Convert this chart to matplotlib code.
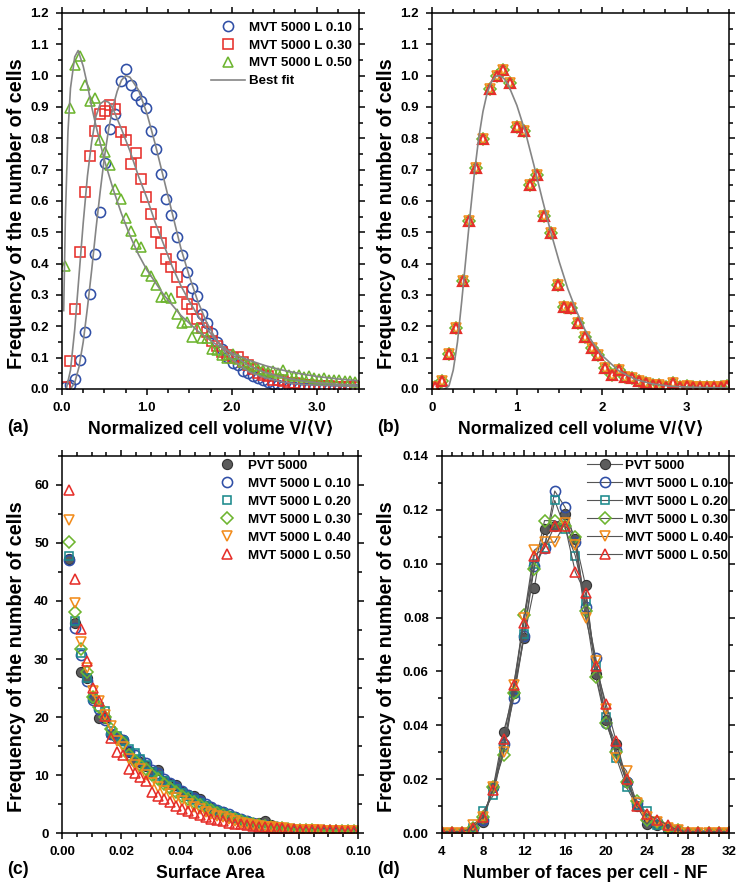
import numpy as np
import matplotlib
matplotlib.use("Agg")
import matplotlib.pyplot as plt
from matplotlib.ticker import MultipleLocator, FormatStrFormatter

plt.rcParams['font.family'] = ['Liberation Sans', 'DejaVu Sans']
plt.rcParams['font.weight'] = 'bold'
plt.rcParams['axes.linewidth'] = 1.1

BLUE = '#2f4ea6'
RED = '#e62f2a'
GREEN = '#6db52f'
TEAL = '#1b8a8c'
ORANGE = '#f28c1c'
FIT = '#858585'

# ---- (a) volume distributions, bins of 0.06 ----
vol_x = np.arange(58) * 0.06 + 0.03
vol_l010 = [0.007, 0.012, 0.032, 0.092, 0.183, 0.303, 0.431, 0.564, 0.721, 0.830,
            0.878, 0.984, 1.022, 0.970, 0.937, 0.920, 0.897, 0.822, 0.767, 0.687,
            0.607, 0.556, 0.485, 0.426, 0.372, 0.321, 0.298, 0.239, 0.210, 0.178,
            0.151, 0.127, 0.103, 0.082, 0.075, 0.057, 0.050, 0.040, 0.034, 0.030,
            0.022, 0.017, 0.012, 0.008, 0.007, 0.005, 0.004, 0.004, 0.003, 0.002,
            0.002, 0.002, 0.001, 0.001, 0.001, 0.001, 0.001, 0.001]
vol_l030 = [0.007, 0.090, 0.256, 0.437, 0.628, 0.742, 0.822, 0.877, 0.886, 0.905,
            0.893, 0.819, 0.795, 0.718, 0.753, 0.671, 0.614, 0.558, 0.500, 0.465,
            0.415, 0.388, 0.356, 0.309, 0.272, 0.255, 0.224, 0.194, 0.181, 0.153,
            0.138, 0.117, 0.108, 0.100, 0.103, 0.085, 0.075, 0.065, 0.050, 0.045,
            0.040, 0.030, 0.028, 0.025, 0.020, 0.018, 0.015, 0.012, 0.012, 0.010,
            0.010, 0.008, 0.008, 0.007, 0.006, 0.006, 0.005, 0.005]
vol_l050 = [0.391, 0.897, 1.035, 1.062, 0.971, 0.918, 0.929, 0.795, 0.756, 0.716,
            0.639, 0.606, 0.547, 0.505, 0.463, 0.453, 0.378, 0.361, 0.332, 0.293,
            0.292, 0.290, 0.239, 0.210, 0.213, 0.167, 0.194, 0.162, 0.162, 0.128,
            0.125, 0.109, 0.100, 0.110, 0.095, 0.085, 0.080, 0.072, 0.065, 0.060,
            0.055, 0.058, 0.050, 0.062, 0.045, 0.042, 0.045, 0.038, 0.040, 0.035,
            0.032, 0.035, 0.030, 0.028, 0.030, 0.025, 0.027, 0.022]

# best-fit curves, sampled
fit010_x = [0.10, 0.15, 0.20, 0.25, 0.30, 0.35, 0.40, 0.45, 0.50, 0.55, 0.60, 0.65,
            0.70, 0.75, 0.80, 0.90, 1.00, 1.10, 1.20, 1.30, 1.40, 1.50, 1.60, 1.70,
            1.80, 1.90, 2.00, 2.20, 2.40, 2.60, 2.80, 3.00, 3.25, 3.50]
fit010_y = [0.0, 0.02, 0.07, 0.15, 0.26, 0.38, 0.51, 0.63, 0.74, 0.83, 0.90, 0.95,
            0.985, 1.0, 0.995, 0.955, 0.88, 0.78, 0.67, 0.56, 0.45, 0.36, 0.28, 0.215,
            0.165, 0.125, 0.095, 0.055, 0.035, 0.022, 0.015, 0.012, 0.010, 0.008]
fit030_x = [0.05, 0.10, 0.15, 0.20, 0.25, 0.30, 0.35, 0.40, 0.45, 0.50, 0.55, 0.60,
            0.70, 0.80, 0.90, 1.00, 1.10, 1.20, 1.30, 1.40, 1.50, 1.60, 1.70, 1.80,
            1.90, 2.00, 2.20, 2.40, 2.60, 2.80, 3.00, 3.25, 3.50]
fit030_y = [0.0, 0.06, 0.19, 0.36, 0.53, 0.68, 0.79, 0.87, 0.91, 0.92, 0.915, 0.895,
            0.83, 0.76, 0.68, 0.61, 0.53, 0.46, 0.39, 0.33, 0.28, 0.235, 0.195, 0.16,
            0.135, 0.11, 0.075, 0.052, 0.037, 0.027, 0.020, 0.015, 0.012]
fit050_x = [0.02, 0.04, 0.07, 0.10, 0.15, 0.19, 0.25, 0.30, 0.35, 0.40, 0.50, 0.60,
            0.70, 0.80, 0.90, 1.00, 1.20, 1.40, 1.60, 1.80, 2.00, 2.20, 2.40, 2.60,
            2.80, 3.00, 3.25, 3.50]
fit050_y = [0.25, 0.55, 0.82, 0.96, 1.06, 1.08, 1.03, 0.97, 0.90, 0.84, 0.73, 0.64,
            0.56, 0.49, 0.43, 0.38, 0.30, 0.235, 0.185, 0.145, 0.115, 0.092, 0.074, 0.060,
            0.049, 0.040, 0.032, 0.026]

# ---- (b) rescaled volume distribution, bins of 0.08 ----
res_x = np.arange(44) * 0.08 + 0.04
res_y = [0.007, 0.025, 0.112, 0.194, 0.345, 0.535, 0.705, 0.798, 0.957, 1.000,
         1.019, 0.977, 0.835, 0.824, 0.652, 0.682, 0.551, 0.497, 0.331, 0.261,
         0.258, 0.212, 0.167, 0.132, 0.109, 0.068, 0.045, 0.061, 0.039, 0.034,
         0.027, 0.018, 0.013, 0.013, 0.007, 0.018, 0.006, 0.008, 0.005, 0.006,
         0.005, 0.005, 0.006, 0.008]
fitb_x = [0.15, 0.20, 0.25, 0.30, 0.35, 0.40, 0.45, 0.50, 0.55, 0.60, 0.65, 0.70,
          0.75, 0.80, 0.85, 0.90, 1.00, 1.10, 1.20, 1.30, 1.40, 1.50, 1.60, 1.70,
          1.80, 1.90, 2.00, 2.20, 2.40, 2.60, 2.80, 3.00, 3.25, 3.50]
fitb_y = [0.0, 0.01, 0.06, 0.15, 0.28, 0.42, 0.56, 0.69, 0.80, 0.885, 0.945, 0.98,
          0.998, 1.0, 0.99, 0.97, 0.905, 0.82, 0.715, 0.605, 0.50, 0.405, 0.32, 0.25,
          0.19, 0.145, 0.108, 0.058, 0.030, 0.016, 0.009, 0.006, 0.004, 0.003]

# ---- (c) surface area distributions, bins of 0.002 ----
area_x = np.arange(49) * 0.002 + 0.0025
area_pvt = [47.2, 36.2, 27.8, 26.8, 23.2, 19.8, 19.8, 17.0, 16.5, 16.0, 14.0, 12.5,
            12.3, 11.5, 10.5, 10.8, 9.0, 8.5, 8.3, 7.0, 6.5, 6.3, 5.8, 4.7, 4.3, 3.8,
            3.6, 3.0, 2.7, 2.3, 2.0, 1.7, 1.8, 2.0, 1.3, 0.9, 0.8, 0.7, 0.6, 0.6, 0.5,
            0.5, 0.4, 0.4, 0.4, 0.3, 0.3, 0.3, 0.3]
area_l010 = [47.0, 35.3, 30.7, 26.2, 23.0, 21.3, 19.5, 17.0, 16.6, 16.0, 14.2, 13.5,
             12.6, 12.0, 10.8, 10.3, 9.3, 8.7, 8.0, 7.2, 6.6, 6.0, 5.5, 5.0, 4.5, 4.0,
             3.6, 3.2, 2.8, 2.4, 2.0, 1.7, 1.4, 1.3, 1.1, 1.0, 0.8, 0.7, 0.6, 0.5, 0.5,
             0.4, 0.4, 0.3, 0.3, 0.3, 0.3, 0.2, 0.2]
area_l020 = [47.8, 36.5, 31.0, 26.8, 23.2, 21.8, 21.0, 17.6, 16.7, 15.8, 14.5, 13.8,
             12.7, 11.8, 10.6, 9.9, 9.0, 8.3, 7.6, 6.9, 6.3, 5.7, 5.2, 4.7, 4.2, 3.8,
             3.4, 3.0, 2.6, 2.2, 1.9, 1.6, 1.4, 1.2, 1.1, 0.9, 0.8, 0.7, 0.6, 0.5, 0.5,
             0.4, 0.4, 0.3, 0.3, 0.3, 0.3, 0.2, 0.2]
area_l030 = [50.1, 38.1, 31.8, 27.7, 23.5, 21.8, 20.0, 18.0, 16.5, 15.5, 13.5, 12.5,
             11.8, 11.0, 10.0, 9.3, 8.5, 7.8, 7.1, 6.4, 5.8, 5.3, 4.8, 4.3, 3.9, 3.5,
             3.1, 2.8, 2.4, 2.1, 1.8, 1.6, 1.4, 1.2, 1.1, 0.9, 0.8, 0.7, 0.6, 0.6, 0.5,
             0.5, 0.4, 0.4, 0.4, 0.3, 0.3, 0.3, 0.3]
area_l040 = [54.0, 39.7, 33.0, 28.5, 24.5, 22.8, 20.3, 18.4, 15.8, 14.8, 12.8, 11.7,
             11.0, 10.0, 8.7, 8.0, 7.3, 6.7, 6.1, 5.5, 5.0, 4.5, 4.1, 3.7, 3.3, 3.0,
             2.7, 2.4, 2.1, 1.8, 1.6, 1.4, 1.2, 1.1, 1.0, 0.9, 0.8, 0.7, 0.6, 0.6, 0.5,
             0.5, 0.5, 0.4, 0.4, 0.4, 0.3, 0.3, 0.3]
area_l050 = [59.2, 43.8, 35.2, 29.6, 25.0, 22.7, 20.1, 16.3, 14.0, 13.4, 11.1, 10.3,
             9.6, 9.0, 7.1, 6.3, 5.9, 5.4, 4.6, 4.2, 3.8, 3.4, 3.1, 2.7, 2.4, 2.2,
             2.0, 1.8, 1.6, 1.5, 1.3, 1.2, 1.1, 1.0, 0.9, 0.9, 0.8, 0.7, 0.7, 0.6, 0.6,
             0.6, 0.5, 0.5, 0.5, 0.5, 0.4, 0.4, 0.4]

# ---- (d) number of faces per cell ----
nf = np.arange(4, 33)
nf_pvt = [0, 0, 0, 0.002, 0.004, 0.017, 0.0375, 0.052, 0.0725, 0.091, 0.113, 0.114,
          0.1185, 0.109, 0.092, 0.059, 0.042, 0.033, 0.019, 0.010, 0.0035, 0.003,
          0.0015, 0.001, 0, 0, 0, 0, 0]
nf_l010 = [0, 0, 0, 0.002, 0.005, 0.017, 0.033, 0.050, 0.073, 0.099, 0.106, 0.127,
           0.121, 0.108, 0.084, 0.065, 0.041, 0.031, 0.019, 0.011, 0.005, 0.004,
           0.002, 0.001, 0, 0, 0, 0, 0]
nf_l020 = [0, 0, 0, 0.002, 0.008, 0.014, 0.032, 0.052, 0.074, 0.100, 0.106, 0.1235,
           0.113, 0.103, 0.086, 0.062, 0.043, 0.028, 0.017, 0.010, 0.008, 0.003,
           0.002, 0.001, 0, 0, 0, 0, 0]
nf_l030 = [0, 0, 0, 0.002, 0.006, 0.017, 0.029, 0.052, 0.081, 0.098, 0.116, 0.116,
           0.114, 0.110, 0.0825, 0.058, 0.041, 0.030, 0.019, 0.012, 0.005, 0.004,
           0.002, 0.001, 0, 0, 0, 0, 0]
nf_l040 = [0, 0, 0, 0.003, 0.006, 0.017, 0.030, 0.055, 0.080, 0.105, 0.108, 0.108,
           0.115, 0.107, 0.080, 0.064, 0.046, 0.028, 0.023, 0.011, 0.006, 0.004,
           0.002, 0.001, 0, 0, 0, 0, 0]
nf_l050 = [0.0005, 0.0005, 0.0005, 0.002, 0.006, 0.016, 0.035, 0.055, 0.078, 0.103,
           0.106, 0.114, 0.114, 0.097, 0.089, 0.062, 0.048, 0.034, 0.020, 0.010,
           0.007, 0.005, 0.003, 0.001, 0.0005, 0.0005, 0.0005, 0.0005, 0.0005]

TICK_FS = 9.5
XLABEL_FS = 12.7
YLABEL_FS = 14.2
LEG_FS = 9.6


def style_axes(ax):
    ax.tick_params(which='both', direction='out', top=True, right=True,
                   width=1.1, labelsize=TICK_FS)
    ax.tick_params(which='major', length=4.5, pad=5)
    ax.tick_params(which='minor', length=2.6)
    for lab in ax.get_xticklabels() + ax.get_yticklabels():
        lab.set_fontweight('bold')


fig = plt.figure(figsize=(7.39, 8.83), dpi=100)
ax_a = fig.add_axes([0.0839, 0.5595, 0.4019, 0.4258])
ax_b = fig.add_axes([0.5846, 0.5595, 0.4019, 0.4258])
ax_c = fig.add_axes([0.0839, 0.0566, 0.4005, 0.4270])
ax_d = fig.add_axes([0.5981, 0.0566, 0.3884, 0.4270])

open_mk = dict(linestyle='none', markerfacecolor='none', markersize=7.3, markeredgewidth=1.15)
leg_kw = dict(loc='upper right', frameon=False, handlelength=2.6, handletextpad=0.25,
              labelspacing=0.42, borderpad=0, borderaxespad=0,
              prop={'weight': 'bold', 'size': LEG_FS})

# (a)
ax_a.plot(vol_x, vol_l010, marker='o', color=BLUE, label='MVT 5000 L 0.10', **open_mk)
ax_a.plot(vol_x, vol_l030, marker='s', color=RED, label='MVT 5000 L 0.30',
          **dict(open_mk, markersize=6.5))
ax_a.plot(vol_x, vol_l050, marker='^', color=GREEN, label='MVT 5000 L 0.50', **open_mk)
ax_a.plot(fit010_x, fit010_y, color=FIT, lw=1.2, label='Best fit')
ax_a.plot(fit030_x, fit030_y, color=FIT, lw=1.2)
ax_a.plot(fit050_x, fit050_y, color=FIT, lw=1.2)
ax_a.set_xlim(0, 3.5)
ax_a.set_ylim(0, 1.2)
ax_a.xaxis.set_major_locator(MultipleLocator(1.0))
ax_a.xaxis.set_minor_locator(MultipleLocator(0.25))
ax_a.xaxis.set_major_formatter(FormatStrFormatter('%.1f'))
ax_a.yaxis.set_major_locator(MultipleLocator(0.1))
ax_a.yaxis.set_minor_locator(MultipleLocator(0.05))
ax_a.yaxis.set_major_formatter(FormatStrFormatter('%.1f'))
ax_a.set_xlabel('Normalized cell volume V/\u27e8V\u27e9', fontsize=XLABEL_FS, fontweight='bold')
ax_a.set_ylabel('Frequency of the number of cells', fontsize=YLABEL_FS, fontweight='bold')
ax_a.legend(bbox_to_anchor=(0.975, 0.978), **leg_kw)

# (b)
ax_b.plot(res_x, res_y, marker='D', color=GREEN, **dict(open_mk, markersize=6.2))
ax_b.plot(res_x, res_y, marker='v', color=ORANGE, **open_mk)
ax_b.plot(res_x, res_y, marker='^', color=RED, **dict(open_mk, markeredgewidth=1.6))
ax_b.plot(fitb_x, fitb_y, color=FIT, lw=1.2)
ax_b.set_xlim(0, 3.5)
ax_b.set_ylim(0, 1.2)
ax_b.xaxis.set_major_locator(MultipleLocator(1))
ax_b.xaxis.set_minor_locator(MultipleLocator(0.25))
ax_b.yaxis.set_major_locator(MultipleLocator(0.1))
ax_b.yaxis.set_minor_locator(MultipleLocator(0.05))
ax_b.yaxis.set_major_formatter(FormatStrFormatter('%.1f'))
ax_b.set_xlabel('Normalized cell volume V/\u27e8V\u27e9', fontsize=XLABEL_FS, fontweight='bold')
ax_b.set_ylabel('Frequency of the number of cells', fontsize=YLABEL_FS, fontweight='bold')

# (c)
ax_c.plot(area_x, area_pvt, marker='o', linestyle='none', markersize=7.3,
          markerfacecolor='#5c5c5c', markeredgecolor='#333333', markeredgewidth=0.8,
          label='PVT 5000')
ax_c.plot(area_x, area_l010, marker='o', color=BLUE, label='MVT 5000 L 0.10', **open_mk)
ax_c.plot(area_x, area_l020, marker='s', color=TEAL, label='MVT 5000 L 0.20',
          **dict(open_mk, markersize=6.2))
ax_c.plot(area_x, area_l030, marker='D', color=GREEN, label='MVT 5000 L 0.30',
          **dict(open_mk, markersize=6.5))
ax_c.plot(area_x, area_l040, marker='v', color=ORANGE, label='MVT 5000 L 0.40', **open_mk)
ax_c.plot(area_x, area_l050, marker='^', color=RED, label='MVT 5000 L 0.50', **open_mk)
ax_c.set_xlim(0, 0.10)
ax_c.set_ylim(0, 65)
ax_c.xaxis.set_major_locator(MultipleLocator(0.02))
ax_c.xaxis.set_minor_locator(MultipleLocator(0.005))
ax_c.xaxis.set_major_formatter(FormatStrFormatter('%.2f'))
ax_c.yaxis.set_major_locator(MultipleLocator(10))
ax_c.yaxis.set_minor_locator(MultipleLocator(5))
ax_c.set_xlabel('Surface Area', fontsize=XLABEL_FS, fontweight='bold')
ax_c.set_ylabel('Frequency of the number of cells', fontsize=YLABEL_FS, fontweight='bold')
ax_c.legend(bbox_to_anchor=(0.975, 0.99), **leg_kw)

# (d)
line_kw = dict(color='#555555', lw=0.8)
ax_d.plot(nf, nf_pvt, marker='o', markersize=7.3, markerfacecolor='#5c5c5c',
          markeredgecolor='#333333', markeredgewidth=0.8, label='PVT 5000', **line_kw)
ax_d.plot(nf, nf_l010, marker='o', markersize=7.3, markerfacecolor='none',
          markeredgecolor=BLUE, markeredgewidth=1.15, label='MVT 5000 L 0.10', **line_kw)
ax_d.plot(nf, nf_l020, marker='s', markersize=6.2, markerfacecolor='none',
          markeredgecolor=TEAL, markeredgewidth=1.15, label='MVT 5000 L 0.20', **line_kw)
ax_d.plot(nf, nf_l030, marker='D', markersize=6.5, markerfacecolor='none',
          markeredgecolor=GREEN, markeredgewidth=1.15, label='MVT 5000 L 0.30', **line_kw)
ax_d.plot(nf, nf_l040, marker='v', markersize=7.3, markerfacecolor='none',
          markeredgecolor=ORANGE, markeredgewidth=1.15, label='MVT 5000 L 0.40', **line_kw)
ax_d.plot(nf, nf_l050, marker='^', markersize=7.3, markerfacecolor='none',
          markeredgecolor=RED, markeredgewidth=1.15, label='MVT 5000 L 0.50', **line_kw)
ax_d.set_xlim(4, 32)
ax_d.set_ylim(0, 0.14)
ax_d.xaxis.set_major_locator(MultipleLocator(4))
ax_d.xaxis.set_minor_locator(MultipleLocator(1))
ax_d.yaxis.set_major_locator(MultipleLocator(0.02))
ax_d.yaxis.set_minor_locator(MultipleLocator(0.01))
ax_d.yaxis.set_major_formatter(FormatStrFormatter('%.2f'))
ax_d.set_xlabel('Number of faces per cell - NF', fontsize=XLABEL_FS, fontweight='bold')
ax_d.set_ylabel('Frequency of the number of cells', fontsize=YLABEL_FS, fontweight='bold')
ax_d.legend(bbox_to_anchor=(0.995, 0.99), **dict(leg_kw, handletextpad=0.2))

for ax in (ax_a, ax_b, ax_c, ax_d):
    style_axes(ax)
    ax.xaxis.set_label_coords(0.5, -0.085)

ax_a.yaxis.set_label_coords(-0.12, 0.467)
ax_b.yaxis.set_label_coords(-0.12, 0.467)
ax_c.yaxis.set_label_coords(-0.12, 0.467)
ax_d.yaxis.set_label_coords(-0.16, 0.467)

# panel letters
for lx, ly, letter in [(7, 428, '(a)'), (377, 428, '(b)'), (7, 870, '(c)'), (377, 870, '(d)')]:
    fig.text(lx / 739, 1 - ly / 883, letter, fontsize=XLABEL_FS, fontweight='bold',
             ha='left', va='center')

fig.savefig('out.png', dpi=100)
